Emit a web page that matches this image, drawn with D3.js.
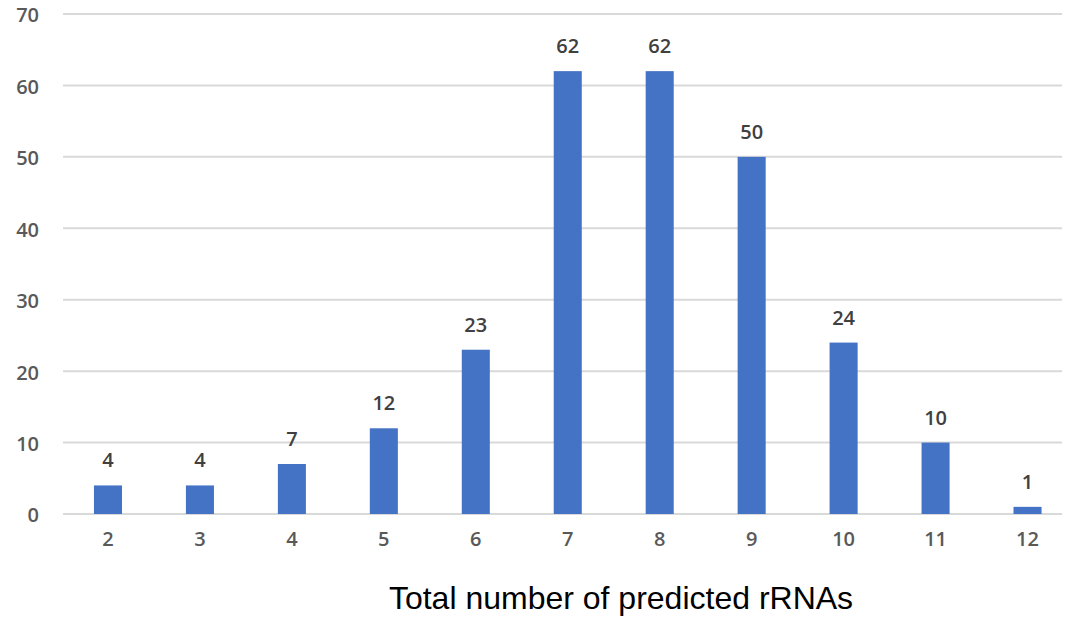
<!DOCTYPE html>
<html><head><meta charset="utf-8">
<script src="https://cdn.jsdelivr.net/npm/d3@7"></script>
<style>body{margin:0;background:#fff}</style>
</head><body>
<svg id="c" width="1071" height="618"></svg>
<script>
const categories = ["2","3","4","5","6","7","8","9","10","11","12"];
const values = [4,4,7,12,23,62,62,50,24,10,1];
const yTicks = [0,10,20,30,40,50,60,70];
const xTitle = "Total number of predicted rRNAs";

const svg = d3.select("#c");
const x = d3.scaleBand().domain(categories).range([62, 1073.5]).paddingInner(0.695).paddingOuter(0.3475);
const y = d3.scaleLinear().domain([0,70]).range([514,14]);

// gridlines
svg.append("g").selectAll("line").data(yTicks).join("line")
  .attr("x1",63).attr("x2",1062)
  .attr("y1",d=>y(d)).attr("y2",d=>y(d))
  .attr("stroke","#d9d9d9").attr("stroke-width",2);

// y axis labels
const yAxis = d3.axisLeft(y).tickValues(yTicks).tickSize(0).tickPadding(0);
const ya = svg.append("g").attr("transform","translate(39,1.5)").call(yAxis);
ya.select(".domain").remove();
ya.selectAll("text").attr("font-family","Open Sans").attr("font-weight",600)
  .attr("font-size",20).attr("fill","#595959");

// x axis labels
const xAxis = d3.axisBottom(x).tickSize(0).tickPadding(0);
const xa = svg.append("g").attr("transform","translate(0,532)").call(xAxis);
xa.select(".domain").remove();
xa.selectAll("text").attr("font-family","Open Sans").attr("font-weight",600)
  .attr("font-size",20).attr("fill","#595959");

// bars
svg.append("g").selectAll("rect").data(values).join("rect")
  .attr("x",(d,i)=>x(categories[i]))
  .attr("width",x.bandwidth())
  .attr("y",d=>y(d))
  .attr("height",d=>y(0)-y(d))
  .attr("fill","#4472c4");

// value labels
svg.append("g").selectAll("text").data(values).join("text")
  .attr("x",(d,i)=>x(categories[i])+x.bandwidth()/2)
  .attr("y",d=>y(d)-18)
  .attr("text-anchor","middle")
  .attr("font-family","Open Sans").attr("font-weight",600)
  .attr("font-size",20).attr("fill","#404040")
  .text(d=>d);

// x title
svg.append("text").attr("x",621).attr("y",609).attr("text-anchor","middle")
  .attr("font-family","Liberation Sans, Arial").attr("font-size",32).attr("fill","#000")
  .text(xTitle);
</script>
</body></html>
